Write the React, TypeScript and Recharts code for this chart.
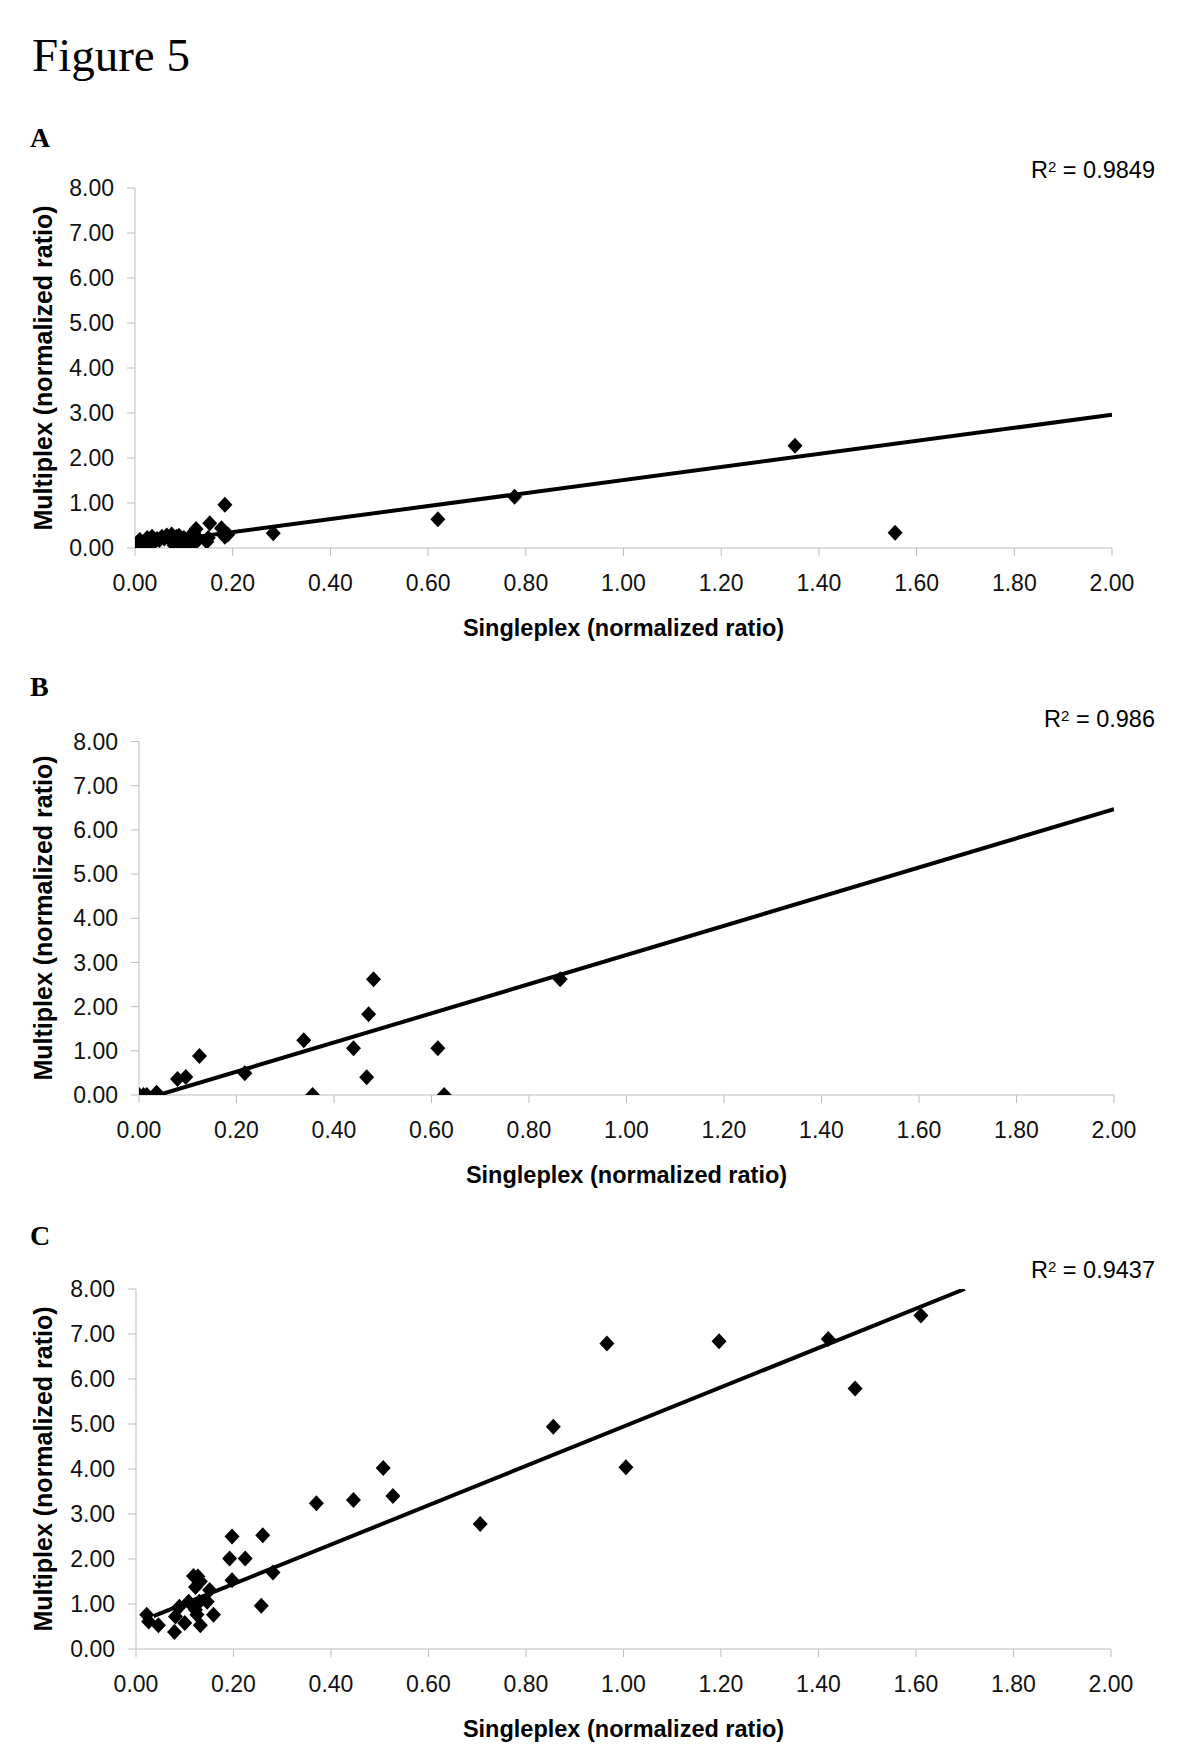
import { ScatterChart, Scatter, XAxis, YAxis } from 'recharts'

const xTicks = [0, 0.2, 0.4, 0.6, 0.8, 1.0, 1.2, 1.4, 1.6, 1.8, 2.0]
const yTicks = [0, 1, 2, 3, 4, 5, 6, 7, 8]
const xTitle = 'Singleplex (normalized ratio)'
const yTitle = 'Multiplex (normalized ratio)'
const figureTitle = 'Figure 5'

// panel A: singleplex vs multiplex
const pointsA = [
  { x: 0.005, y: 0.12 }, { x: 0.01, y: 0.18 }, { x: 0.015, y: 0.08 }, { x: 0.02, y: 0.15 },
  { x: 0.025, y: 0.22 }, { x: 0.03, y: 0.1 }, { x: 0.035, y: 0.25 }, { x: 0.04, y: 0.14 },
  { x: 0.045, y: 0.2 }, { x: 0.05, y: 0.18 }, { x: 0.055, y: 0.25 }, { x: 0.06, y: 0.21 },
  { x: 0.065, y: 0.28 }, { x: 0.07, y: 0.22 }, { x: 0.075, y: 0.3 }, { x: 0.08, y: 0.06 },
  { x: 0.085, y: 0.25 }, { x: 0.09, y: 0.27 }, { x: 0.095, y: 0.1 }, { x: 0.1, y: 0.22 },
  { x: 0.105, y: 0.05 }, { x: 0.11, y: 0.15 }, { x: 0.115, y: 0.27 }, { x: 0.12, y: 0.35 },
  { x: 0.12, y: 0.08 }, { x: 0.125, y: 0.42 }, { x: 0.13, y: 0.2 }, { x: 0.147, y: 0.14 },
  { x: 0.153, y: 0.55 }, { x: 0.15, y: 0.22 }, { x: 0.177, y: 0.44 }, { x: 0.184, y: 0.96 },
  { x: 0.184, y: 0.25 }, { x: 0.19, y: 0.3 }, { x: 0.283, y: 0.33 }, { x: 0.62, y: 0.64 },
  { x: 0.777, y: 1.14 }, { x: 1.351, y: 2.27 }, { x: 1.556, y: 0.34 },
]
const trendA = [{ x: 0.005, y: 0.07 }, { x: 2.0, y: 2.96 }]

// panel B
const pointsB = [
  { x: 0.0, y: 0.0 }, { x: 0.009, y: 0.0 }, { x: 0.016, y: 0.0 }, { x: 0.036, y: 0.05 },
  { x: 0.079, y: 0.36 }, { x: 0.096, y: 0.41 }, { x: 0.124, y: 0.88 }, { x: 0.217, y: 0.49 },
  { x: 0.338, y: 1.24 }, { x: 0.356, y: 0.0 }, { x: 0.44, y: 1.06 }, { x: 0.467, y: 0.4 },
  { x: 0.471, y: 1.83 }, { x: 0.481, y: 2.62 }, { x: 0.613, y: 1.06 }, { x: 0.626, y: 0.0 },
  { x: 0.864, y: 2.62 },
]
const trendB = [{ x: 0.04, y: 0.0 }, { x: 2.0, y: 6.47 }]

// panel C
const pointsC = [
  { x: 0.022, y: 0.76 }, { x: 0.026, y: 0.61 }, { x: 0.046, y: 0.53 }, { x: 0.079, y: 0.38 },
  { x: 0.081, y: 0.72 }, { x: 0.089, y: 0.94 }, { x: 0.1, y: 0.58 }, { x: 0.108, y: 1.05 },
  { x: 0.118, y: 1.62 }, { x: 0.122, y: 1.38 }, { x: 0.127, y: 1.61 }, { x: 0.132, y: 1.5 },
  { x: 0.122, y: 0.87 }, { x: 0.125, y: 0.76 }, { x: 0.132, y: 0.53 }, { x: 0.13, y: 1.05 },
  { x: 0.146, y: 1.05 }, { x: 0.151, y: 1.31 }, { x: 0.159, y: 0.76 }, { x: 0.197, y: 1.53 },
  { x: 0.192, y: 2.01 }, { x: 0.197, y: 2.5 }, { x: 0.224, y: 2.01 }, { x: 0.257, y: 0.96 },
  { x: 0.26, y: 2.53 }, { x: 0.281, y: 1.7 }, { x: 0.37, y: 3.24 }, { x: 0.446, y: 3.31 },
  { x: 0.507, y: 4.02 }, { x: 0.527, y: 3.4 }, { x: 0.706, y: 2.78 }, { x: 0.856, y: 4.94 },
  { x: 0.966, y: 6.79 }, { x: 1.005, y: 4.04 }, { x: 1.196, y: 6.84 }, { x: 1.42, y: 6.89 },
  { x: 1.475, y: 5.79 }, { x: 1.61, y: 7.41 },
]
const trendC = [{ x: 0.036, y: 0.73 }, { x: 1.7, y: 8.0 }]

const panelLetters = ['A', 'B', 'C']
const r2Values = ['0.9849', '0.986', '0.9437']

const sans = '"Liberation Sans", Arial, Helvetica, sans-serif'
const serif = '"Liberation Serif", "Times New Roman", Times, serif'
const axisGrey = '#bdbdbd'

function Diamond(props: any) {
  const { cx, cy } = props
  if (cx == null || cy == null) return <g />
  const rx = 7.5
  const ry = 8
  return (
    <polygon
      points={`${cx},${cy - ry} ${cx + rx},${cy} ${cx},${cy + ry} ${cx - rx},${cy}`}
      fill="#000"
    />
  )
}

interface PanelProps {
  points: { x: number; y: number }[]
  trend: { x: number; y: number }[]
  letter: string
  r2: string
  top: number
  plotLeft: number
  plotRight: number
  plotTop: number
  plotBottom: number
  letterBaseline: number
  r2Baseline: number
}

function Panel({ points, trend, letter, r2, top, plotLeft, plotRight, plotTop, plotBottom, letterBaseline, r2Baseline }: PanelProps) {
  const height = 440
  const yAxisWidth = 60
  const xAxisHeight = 40
  const margin = {
    top: plotTop - top,
    bottom: top + height - plotBottom - xAxisHeight,
    left: plotLeft - yAxisWidth,
    right: 1200 - plotRight,
  }
  const tickStyle = { fill: '#111', fontSize: 23, fontFamily: sans }

  return (
    <>
      <div
        style={{
          position: 'absolute', left: 30, top: letterBaseline - 25,
          fontFamily: serif, fontWeight: 'bold', fontSize: 28, lineHeight: '31px',
        }}
      >
        {letter}
      </div>
      <div
        style={{
          position: 'absolute', right: 45, top: r2Baseline - 22,
          fontFamily: sans, fontSize: 23.5, lineHeight: '27px', whiteSpace: 'nowrap',
        }}
      >
        R<sup style={{ fontSize: 15, verticalAlign: 'top', position: 'relative', top: -4 }}>2</sup> = {r2}
      </div>
      <div style={{ position: 'absolute', left: 0, top }}>
        <ScatterChart width={1200} height={height} margin={margin}>
          <XAxis
            type="number"
            dataKey="x"
            domain={[0, 2]}
            ticks={xTicks}
            interval={0}
            allowDataOverflow
            tickFormatter={(v: number) => v.toFixed(2)}
            stroke={axisGrey}
            tickLine={{ stroke: axisGrey }}
            tick={tickStyle}
            tickSize={8}
            tickMargin={19}
            height={xAxisHeight}
          />
          <YAxis
            type="number"
            dataKey="y"
            domain={[0, 8]}
            ticks={yTicks}
            interval={0}
            allowDataOverflow
            tickFormatter={(v: number) => v.toFixed(2)}
            stroke={axisGrey}
            tickLine={{ stroke: axisGrey }}
            tick={tickStyle}
            tickSize={8}
            tickMargin={13}
            width={yAxisWidth}
          />
          <Scatter
            data={trend}
            line={{ stroke: '#000', strokeWidth: 4 }}
            shape={() => <g />}
            isAnimationActive={false}
          />
          <Scatter data={points} shape={Diamond} isAnimationActive={false} />
        </ScatterChart>
      </div>
      <div
        style={{
          position: 'absolute', left: (plotLeft + plotRight) / 2, top: plotBottom + 80,
          transform: 'translate(-50%, -50%)', fontFamily: sans, fontWeight: 'bold',
          fontSize: 23.5, whiteSpace: 'nowrap',
        }}
      >
        {xTitle}
      </div>
      <div
        style={{
          position: 'absolute', left: 43, top: (plotTop + plotBottom) / 2,
          transform: 'translate(-50%, -50%) rotate(-90deg)', fontFamily: sans, fontWeight: 'bold',
          fontSize: 25, whiteSpace: 'nowrap',
        }}
      >
        {yTitle}
      </div>
    </>
  )
}

export default function App() {
  return (
    <div style={{ position: 'absolute', left: 0, top: 0, width: 1200, height: 1759, background: '#fff', overflow: 'hidden' }}>
      <div style={{ position: 'absolute', left: 32, top: 28, fontFamily: serif, fontSize: 47, lineHeight: '54px' }}>
        {figureTitle}
      </div>
      <Panel
        points={pointsA} trend={trendA} letter={panelLetters[0]} r2={r2Values[0]}
        top={160} plotLeft={135} plotRight={1112} plotTop={188} plotBottom={548}
        letterBaseline={147} r2Baseline={179}
      />
      <Panel
        points={pointsB} trend={trendB} letter={panelLetters[1]} r2={r2Values[1]}
        top={710} plotLeft={139} plotRight={1114} plotTop={741.5} plotBottom={1095}
        letterBaseline={696} r2Baseline={728}
      />
      <Panel
        points={pointsC} trend={trendC} letter={panelLetters[2]} r2={r2Values[2]}
        top={1260} plotLeft={136} plotRight={1111} plotTop={1289} plotBottom={1649}
        letterBaseline={1245} r2Baseline={1279}
      />
    </div>
  )
}
